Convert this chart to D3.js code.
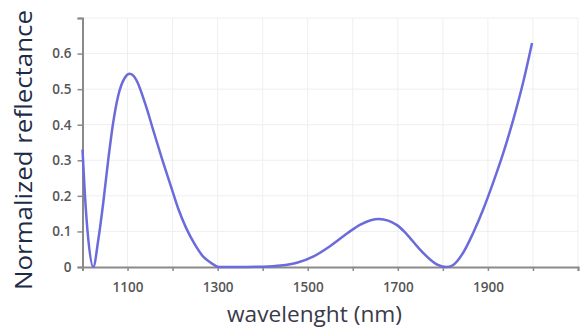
<!DOCTYPE html>
<html><head><meta charset="utf-8">
<script src="https://cdn.jsdelivr.net/npm/d3@7"></script>
<style>body{margin:0;background:#fff}svg{display:block}</style>
</head><body>
<script>
const wavelength = [1000,1005,1013,1024,1035,1046,1057,1068,1079,1094,1105,1119,1139,1157,1175,1194,1212,1230,1250,1268,1286,1302,1340,1400,1440,1476,1513,1551,1588,1618,1658,1699,1720,1745,1771,1789,1808,1822,1845,1867,1889,1911,1934,1956,1978,1998];
const reflectance = [0.33,0.21,0.076,0.0,0.076,0.18,0.30,0.405,0.48,0.532,0.543,0.527,0.46,0.385,0.31,0.236,0.166,0.11,0.062,0.029,0.011,0.0,0.0,0.001,0.004,0.012,0.03,0.06,0.095,0.12,0.135,0.117,0.092,0.055,0.022,0.006,0.0,0.005,0.04,0.095,0.16,0.235,0.32,0.413,0.518,0.63];
const xTickLabels = [1100,1300,1500,1700,1900];
const xTicks = [1000,1100,1200,1300,1400,1500,1600,1700,1800,1900,2000,2100];
const yTicks = [0,0.1,0.2,0.3,0.4,0.5,0.6,0.7];
const yTickLabels = [0,0.1,0.2,0.3,0.4,0.5,0.6];

const W=581,H=334;
const svg=d3.select("body").append("svg").attr("width",W).attr("height",H);
const x=d3.scaleLinear().domain([1000,2100]).range([82.5,578]);
const y=d3.scaleLinear().domain([0,0.7]).range([267,18]);

// gridlines
svg.append("g").selectAll("line").data(xTicks.slice(1)).join("line")
 .attr("x1",d=>x(d)).attr("x2",d=>x(d)).attr("y1",y(0.7)).attr("y2",y(0))
 .attr("stroke","#efefef").attr("stroke-width",1);
svg.append("g").selectAll("line").data(yTicks.slice(1)).join("line")
 .attr("x1",x(1000)).attr("x2",x(2100)).attr("y1",d=>y(d)).attr("y2",d=>y(d))
 .attr("stroke","#efefef").attr("stroke-width",1);

// axes
const font="'Open Sans', 'Noto Sans', sans-serif";
const xAxis=d3.axisBottom(x).tickValues(xTicks).tickSize(4).tickFormat(d=>xTickLabels.includes(d)?d:"");
const gx=svg.append("g").attr("transform",`translate(0,${y(0)})`).call(xAxis);
const yAxis=d3.axisLeft(y).tickValues(yTicks).tickSize(5).tickFormat(d=>yTickLabels.includes(d)?d:"");
const gy=svg.append("g").attr("transform",`translate(${x(1000)},0)`).call(yAxis);
[gx,gy].forEach(g=>{
  g.select(".domain").attr("stroke","#8a8a8a").attr("stroke-width",2);
  g.selectAll(".tick line").attr("stroke","#8a8a8a").attr("stroke-width",1.5);
  g.selectAll(".tick text").attr("fill","#555").attr("font-family",font).attr("font-size",13.5).attr("font-weight","600");
});
gx.selectAll(".tick text").attr("y",25).attr("dy",0);
gy.selectAll(".tick text").attr("x",-11);

// line
const line=d3.line().x((d,i)=>x(wavelength[i])).y(d=>y(d)).curve(d3.curveMonotoneX);
svg.append("path").datum(reflectance).attr("d",line).attr("fill","none")
 .attr("stroke","#6b6bdb").attr("stroke-width",2.5).attr("stroke-linejoin","round");

// titles
svg.append("text").attr("x",314.5).attr("y",322).attr("text-anchor","middle")
 .attr("font-family",font).attr("font-size",21).attr("fill","#3a3a48")
 .attr("textLength",175).attr("lengthAdjust","spacingAndGlyphs").text("wavelenght (nm)");
svg.append("text").attr("transform","translate(32,150) rotate(-90)").attr("text-anchor","middle")
 .attr("font-family",font).attr("font-size",24).attr("fill","#1d2b45")
 .attr("textLength",280).attr("lengthAdjust","spacingAndGlyphs").text("Normalized reflectance");
</script>
</body></html>
